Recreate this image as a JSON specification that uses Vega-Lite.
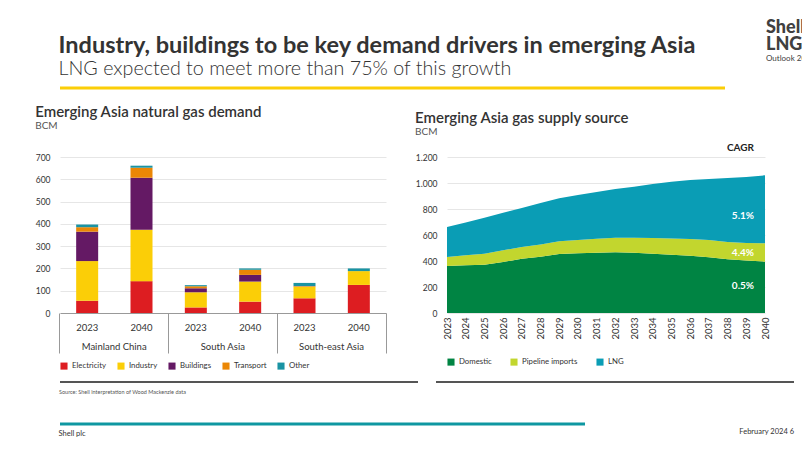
{
  "$schema": "https://vega.github.io/schema/vega-lite/v6.json",
  "padding": {"left": 35, "top": 19, "right": 0, "bottom": 0},
  "background": "white",
  "config": {
    "font": "Lato",
    "view": {"stroke": null},
    "title": {"font": "Lato", "subtitleFont": "Lato"},
    "axis": {"labelColor": "#333", "labelFont": "Lato"},
    "legend": {"labelColor": "#333", "labelFont": "Lato"}
  },
  "spacing": 11,
  "resolve": {"scale": {"x": "independent", "y": "independent"}},
  "vconcat": [
    {
      "spacing": 39,
      "resolve": {"scale": {"x": "independent", "y": "independent"}},
      "hconcat": [
        {
          "width": 665, "height": 5.5,
          "data": {"values": [{}]},
          "mark": {"type": "rule", "color": "#FBCE07", "strokeWidth": 3},
          "encoding": {
            "x": {"datum": 0, "type": "quantitative", "scale": {"domain": [0, 1]}, "axis": null},
            "x2": {"datum": 1},
            "y": {"datum": 1, "type": "quantitative", "scale": {"domain": [0, 1]}, "axis": null}
          },
          "title": {
            "text": "Industry, buildings to be key demand drivers in emerging Asia",
            "subtitle": "LNG expected to meet more than 75% of this growth",
            "anchor": "start", "offset": 7.5,
            "fontSize": 23.5, "fontWeight": "bold", "color": "#333",
            "subtitleFontSize": 19.7, "subtitleFontWeight": 300, "subtitleColor": "#333", "subtitlePadding": 2
          }
        },
        {
          "width": 42, "height": 5.5,
          "data": {"values": [{}]},
          "mark": {"type": "rule", "opacity": 0},
          "encoding": {
            "x": {"datum": 0, "type": "quantitative", "scale": {"domain": [0, 1]}, "axis": null},
            "x2": {"datum": 1},
            "y": {"datum": 1, "type": "quantitative", "scale": {"domain": [0, 1]}, "axis": null}
          },
          "title": {
            "text": ["Shell", "LNG"],
            "subtitle": "Outlook 2024",
            "anchor": "start", "offset": 25,
            "fontSize": 18, "fontWeight": 900, "lineHeight": 17, "color": "#404040",
            "subtitleFontSize": 8, "subtitlePadding": 1, "subtitleColor": "#404040"
          }
        }
      ]
    },
    {
      "spacing": 28,
      "resolve": {"scale": {"color": "independent", "y": "independent", "x": "independent"}, "legend": {"color": "independent"}},
      "hconcat": [
        {
          "width": 326, "height": 156,
          "title": {
            "text": "Emerging Asia natural gas demand", "subtitle": "BCM",
            "anchor": "start", "offset": 22,
            "fontSize": 15, "fontWeight": 600, "color": "#333",
            "subtitleFontSize": 10, "subtitleColor": "#555", "subtitlePadding": 1
          },
          "data": {"values": [
            {"group": "Mainland China|2023", "cat": "Electricity", "k": 1, "v": 55},
            {"group": "Mainland China|2023", "cat": "Industry", "k": 2, "v": 178},
            {"group": "Mainland China|2023", "cat": "Buildings", "k": 3, "v": 132},
            {"group": "Mainland China|2023", "cat": "Transport", "k": 4, "v": 20},
            {"group": "Mainland China|2023", "cat": "Other", "k": 5, "v": 12},
            {"group": "Mainland China|2040", "cat": "Electricity", "k": 1, "v": 143},
            {"group": "Mainland China|2040", "cat": "Industry", "k": 2, "v": 231},
            {"group": "Mainland China|2040", "cat": "Buildings", "k": 3, "v": 233},
            {"group": "Mainland China|2040", "cat": "Transport", "k": 4, "v": 45},
            {"group": "Mainland China|2040", "cat": "Other", "k": 5, "v": 9},
            {"group": "South Asia|2023", "cat": "Electricity", "k": 1, "v": 25},
            {"group": "South Asia|2023", "cat": "Industry", "k": 2, "v": 68},
            {"group": "South Asia|2023", "cat": "Buildings", "k": 3, "v": 18},
            {"group": "South Asia|2023", "cat": "Transport", "k": 4, "v": 9},
            {"group": "South Asia|2023", "cat": "Other", "k": 5, "v": 5},
            {"group": "South Asia|2040", "cat": "Electricity", "k": 1, "v": 51},
            {"group": "South Asia|2040", "cat": "Industry", "k": 2, "v": 90},
            {"group": "South Asia|2040", "cat": "Buildings", "k": 3, "v": 30},
            {"group": "South Asia|2040", "cat": "Transport", "k": 4, "v": 23},
            {"group": "South Asia|2040", "cat": "Other", "k": 5, "v": 6},
            {"group": "South-east Asia|2023", "cat": "Electricity", "k": 1, "v": 66},
            {"group": "South-east Asia|2023", "cat": "Industry", "k": 2, "v": 52},
            {"group": "South-east Asia|2023", "cat": "Buildings", "k": 3, "v": 1},
            {"group": "South-east Asia|2023", "cat": "Transport", "k": 4, "v": 2},
            {"group": "South-east Asia|2023", "cat": "Other", "k": 5, "v": 14},
            {"group": "South-east Asia|2040", "cat": "Electricity", "k": 1, "v": 126},
            {"group": "South-east Asia|2040", "cat": "Industry", "k": 2, "v": 62},
            {"group": "South-east Asia|2040", "cat": "Buildings", "k": 3, "v": 0},
            {"group": "South-east Asia|2040", "cat": "Transport", "k": 4, "v": 0},
            {"group": "South-east Asia|2040", "cat": "Other", "k": 5, "v": 12}
          ]},
          "resolve": {"axis": {"x": "independent"}},
          "layer": [
            {
              "mark": {"type": "bar"},
              "encoding": {
                "x": {
                  "field": "group", "type": "nominal",
                  "scale": {
                    "domain": ["Mainland China|2023", "Mainland China|2040", "South Asia|2023", "South Asia|2040", "South-east Asia|2023", "South-east Asia|2040"],
                    "paddingInner": 0.595, "paddingOuter": 0.2975
                  },
                  "axis": {
                    "orient": "bottom", "title": null, "labelAngle": 0,
                    "labelExpr": "split(datum.label, '|')[1]",
                    "ticks": false, "domainColor": "#999", "labelPadding": 9, "labelFontSize": 9.5
                  }
                },
                "y": {
                  "field": "v", "type": "quantitative",
                  "scale": {"domain": [0, 700], "nice": false},
                  "axis": {
                    "title": null, "values": [0, 100, 200, 300, 400, 500, 600, 700], "labelOverlap": false,
                    "grid": true, "gridColor": "#e6e6e6", "domain": false, "ticks": false,
                    "labelPadding": 10, "labelFontSize": 8.5, "minExtent": 23, "maxExtent": 23
                  }
                },
                "color": {
                  "field": "cat", "type": "nominal",
                  "scale": {
                    "domain": ["Electricity", "Industry", "Buildings", "Transport", "Other"],
                    "range": ["#DD1D21", "#FBCE07", "#641964", "#EB8705", "#1A93A3"]
                  },
                  "legend": {
                    "orient": "bottom", "direction": "horizontal", "title": null,
                    "symbolType": "square", "symbolSize": 50, "symbolStrokeWidth": 0,
                    "labelFontSize": 7.8, "labelOffset": 4, "columnPadding": 10, "offset": 8
                  }
                },
                "order": {"field": "k", "type": "quantitative"}
              }
            },
            {
              "mark": {"type": "tick", "opacity": 0},
              "encoding": {
                "x": {
                  "field": "group", "type": "nominal",
                  "axis": {
                    "orient": "bottom", "title": null, "labels": false, "domain": false,
                    "values": ["Mainland China|2023", "South Asia|2023", "South-east Asia|2023"],
                    "bandPosition": -0.735, "tickSize": 40, "tickColor": "#999"
                  }
                },
                "y": {
                  "field": "v", "type": "quantitative",
                  "axis": {
                    "title": null, "values": [0, 100, 200, 300, 400, 500, 600, 700], "labelOverlap": false,
                    "grid": true, "gridColor": "#e6e6e6", "domain": false, "ticks": false,
                    "labelPadding": 10, "labelFontSize": 8.5, "minExtent": 23, "maxExtent": 23
                  }
                }
              }
            },
            {
              "mark": {"type": "tick", "opacity": 0},
              "encoding": {
                "x": {
                  "field": "group", "type": "nominal",
                  "axis": {
                    "orient": "bottom", "title": null, "labels": false, "domain": false,
                    "values": ["South-east Asia|2040"],
                    "bandPosition": 1.735, "tickSize": 40, "tickColor": "#999"
                  }
                },
                "y": {
                  "field": "v", "type": "quantitative",
                  "axis": {
                    "title": null, "values": [0, 100, 200, 300, 400, 500, 600, 700], "labelOverlap": false,
                    "grid": true, "gridColor": "#e6e6e6", "domain": false, "ticks": false,
                    "labelPadding": 10, "labelFontSize": 8.5, "minExtent": 23, "maxExtent": 23
                  }
                }
              }
            },
            {
              "mark": {"type": "tick", "opacity": 0},
              "encoding": {
                "x": {
                  "field": "group", "type": "nominal",
                  "axis": {
                    "orient": "bottom", "title": null, "ticks": false, "domain": false,
                    "values": ["Mainland China|2023", "South Asia|2023", "South-east Asia|2023"],
                    "labelExpr": "split(datum.label, '|')[0]", "labelAngle": 0,
                    "labelOffset": 27, "labelPadding": 28, "labelFontSize": 9.5
                  }
                },
                "y": {
                  "field": "v", "type": "quantitative",
                  "axis": {
                    "title": null, "values": [0, 100, 200, 300, 400, 500, 600, 700], "labelOverlap": false,
                    "grid": true, "gridColor": "#e6e6e6", "domain": false, "ticks": false,
                    "labelPadding": 10, "labelFontSize": 8.5, "minExtent": 23, "maxExtent": 23
                  }
                }
              }
            }
          ]
        },
        {
          "width": 318, "height": 156,
          "title": {
            "text": "Emerging Asia gas supply source", "subtitle": "BCM",
            "anchor": "start", "offset": 6.5,
            "fontSize": 15, "fontWeight": 600, "color": "#333",
            "subtitleFontSize": 10, "subtitleColor": "#555", "subtitlePadding": 1
          },
          "layer": [
            {
              "data": {"values": [
                {"year": "2023", "src": "Domestic", "k": 1, "v": 362}, {"year": "2023", "src": "Pipeline imports", "k": 2, "v": 69}, {"year": "2023", "src": "LNG", "k": 3, "v": 230},
                {"year": "2024", "src": "Domestic", "k": 1, "v": 367}, {"year": "2024", "src": "Pipeline imports", "k": 2, "v": 77}, {"year": "2024", "src": "LNG", "k": 3, "v": 253},
                {"year": "2025", "src": "Domestic", "k": 1, "v": 372}, {"year": "2025", "src": "Pipeline imports", "k": 2, "v": 84}, {"year": "2025", "src": "LNG", "k": 3, "v": 277},
                {"year": "2026", "src": "Domestic", "k": 1, "v": 392}, {"year": "2026", "src": "Pipeline imports", "k": 2, "v": 90}, {"year": "2026", "src": "LNG", "k": 3, "v": 290},
                {"year": "2027", "src": "Domestic", "k": 1, "v": 418}, {"year": "2027", "src": "Pipeline imports", "k": 2, "v": 90}, {"year": "2027", "src": "LNG", "k": 3, "v": 300},
                {"year": "2028", "src": "Domestic", "k": 1, "v": 433}, {"year": "2028", "src": "Pipeline imports", "k": 2, "v": 93}, {"year": "2028", "src": "LNG", "k": 3, "v": 320},
                {"year": "2029", "src": "Domestic", "k": 1, "v": 454}, {"year": "2029", "src": "Pipeline imports", "k": 2, "v": 97}, {"year": "2029", "src": "LNG", "k": 3, "v": 331},
                {"year": "2030", "src": "Domestic", "k": 1, "v": 459}, {"year": "2030", "src": "Pipeline imports", "k": 2, "v": 103}, {"year": "2030", "src": "LNG", "k": 3, "v": 346},
                {"year": "2031", "src": "Domestic", "k": 1, "v": 464}, {"year": "2031", "src": "Pipeline imports", "k": 2, "v": 108}, {"year": "2031", "src": "LNG", "k": 3, "v": 359},
                {"year": "2032", "src": "Domestic", "k": 1, "v": 467}, {"year": "2032", "src": "Pipeline imports", "k": 2, "v": 112}, {"year": "2032", "src": "LNG", "k": 3, "v": 375},
                {"year": "2033", "src": "Domestic", "k": 1, "v": 464}, {"year": "2033", "src": "Pipeline imports", "k": 2, "v": 115}, {"year": "2033", "src": "LNG", "k": 3, "v": 393},
                {"year": "2034", "src": "Domestic", "k": 1, "v": 456}, {"year": "2034", "src": "Pipeline imports", "k": 2, "v": 121}, {"year": "2034", "src": "LNG", "k": 3, "v": 415},
                {"year": "2035", "src": "Domestic", "k": 1, "v": 449}, {"year": "2035", "src": "Pipeline imports", "k": 2, "v": 125}, {"year": "2035", "src": "LNG", "k": 3, "v": 436},
                {"year": "2036", "src": "Domestic", "k": 1, "v": 441}, {"year": "2036", "src": "Pipeline imports", "k": 2, "v": 128}, {"year": "2036", "src": "LNG", "k": 3, "v": 454},
                {"year": "2037", "src": "Domestic", "k": 1, "v": 428}, {"year": "2037", "src": "Pipeline imports", "k": 2, "v": 134}, {"year": "2037", "src": "LNG", "k": 3, "v": 469},
                {"year": "2038", "src": "Domestic", "k": 1, "v": 413}, {"year": "2038", "src": "Pipeline imports", "k": 2, "v": 133}, {"year": "2038", "src": "LNG", "k": 3, "v": 492},
                {"year": "2039", "src": "Domestic", "k": 1, "v": 403}, {"year": "2039", "src": "Pipeline imports", "k": 2, "v": 135}, {"year": "2039", "src": "LNG", "k": 3, "v": 508},
                {"year": "2040", "src": "Domestic", "k": 1, "v": 395}, {"year": "2040", "src": "Pipeline imports", "k": 2, "v": 141}, {"year": "2040", "src": "LNG", "k": 3, "v": 523}
              ]},
              "mark": {"type": "area"},
              "encoding": {
                "x": {
                  "field": "year", "type": "ordinal",
                  "scale": {"type": "point", "padding": 0},
                  "axis": {"title": null, "labelAngle": -90, "ticks": false, "domain": false, "labelPadding": 4, "labelFontSize": 9.5, "labelOverlap": false}
                },
                "y": {
                  "field": "v", "type": "quantitative", "stack": "zero",
                  "scale": {"domain": [0, 1200], "nice": false},
                  "axis": {
                    "title": null, "values": [0, 200, 400, 600, 800, 1000, 1200], "labelOverlap": false,
                    "labelExpr": "replace(format(datum.value, ','), ',', '.')",
                    "grid": true, "gridColor": "#e6e6e6", "domain": false, "ticks": false,
                    "labelPadding": 10, "labelFontSize": 8.5, "minExtent": 32, "maxExtent": 32
                  }
                },
                "color": {
                  "field": "src", "type": "nominal",
                  "scale": {"domain": ["Domestic", "Pipeline imports", "LNG"], "range": ["#008443", "#C2D62E", "#0A9DB5"]},
                  "legend": {
                    "orient": "bottom", "direction": "horizontal", "title": null,
                    "symbolType": "square", "symbolSize": 50, "symbolStrokeWidth": 0,
                    "labelFontSize": 7.8, "labelOffset": 4, "columnPadding": 18, "offset": 18
                  }
                },
                "order": {"field": "k", "type": "quantitative"}
              }
            },
            {
              "data": {"values": [
                {"year": "2040", "label": "CAGR", "v": 1269},
                {"year": "2040", "label": "5.1%", "v": 746},
                {"year": "2040", "label": "4.4%", "v": 461},
                {"year": "2040", "label": "0.5%", "v": 205}
              ]},
              "mark": {"type": "text", "align": "right", "baseline": "middle", "dx": -11, "fontSize": 10, "fontWeight": "bold"},
              "encoding": {
                "x": {
                  "field": "year", "type": "ordinal",
                  "axis": {"title": null, "labelAngle": -90, "ticks": false, "domain": false, "labelPadding": 4, "labelFontSize": 9.5, "labelOverlap": false}
                },
                "y": {
                  "field": "v", "type": "quantitative",
                  "axis": {
                    "title": null, "values": [0, 200, 400, 600, 800, 1000, 1200], "labelOverlap": false,
                    "labelExpr": "replace(format(datum.value, ','), ',', '.')",
                    "grid": true, "gridColor": "#e6e6e6", "domain": false, "ticks": false,
                    "labelPadding": 10, "labelFontSize": 8.5, "minExtent": 32, "maxExtent": 32
                  }
                },
                "text": {"field": "label"},
                "color": {"condition": {"test": "datum.label === 'CAGR'", "value": "#222"}, "value": "white"}
              }
            }
          ]
        }
      ]
    },
    {
      "spacing": 16,
      "resolve": {"scale": {"x": "independent", "y": "independent"}},
      "hconcat": [
        {
          "width": 358, "height": 2,
          "data": {"values": [{}]},
          "mark": {"type": "rule", "color": "#555", "strokeWidth": 2},
          "encoding": {
            "x": {"datum": 0, "type": "quantitative", "scale": {"domain": [0, 1]}, "axis": null},
            "x2": {"datum": 1},
            "y": {"datum": 1, "type": "quantitative", "scale": {"domain": [0, 1]}, "axis": null}
          },
          "title": {
            "text": "Source: Shell interpretation of Wood Mackenzie data",
            "orient": "bottom", "anchor": "start", "offset": 6,
            "fontSize": 5.5, "fontWeight": "normal", "color": "#555"
          }
        },
        {
          "width": 358, "height": 2,
          "data": {"values": [{}]},
          "mark": {"type": "rule", "color": "#555", "strokeWidth": 2},
          "encoding": {
            "x": {"datum": 0, "type": "quantitative", "scale": {"domain": [0, 1]}, "axis": null},
            "x2": {"datum": 1},
            "y": {"datum": 1, "type": "quantitative", "scale": {"domain": [0, 1]}, "axis": null}
          }
        }
      ]
    },
    {
      "spacing": 0,
      "resolve": {"scale": {"x": "independent", "y": "independent"}},
      "hconcat": [
        {
          "width": 525, "height": 17,
          "data": {"values": [{}]},
          "mark": {"type": "rule", "color": "#0E97A1", "strokeWidth": 3},
          "encoding": {
            "x": {"datum": 0, "type": "quantitative", "scale": {"domain": [0, 1]}, "axis": null},
            "x2": {"datum": 1},
            "y": {"datum": 0, "type": "quantitative", "scale": {"domain": [0, 1]}, "axis": null}
          },
          "title": {
            "text": "Shell plc", "orient": "bottom", "anchor": "start", "offset": 4,
            "fontSize": 7.5, "fontWeight": "normal", "color": "#333"
          }
        },
        {
          "width": 207, "height": 17,
          "data": {"values": [{}]},
          "mark": {"type": "rule", "opacity": 0, "strokeWidth": 3},
          "encoding": {
            "x": {"datum": 0, "type": "quantitative", "scale": {"domain": [0, 1]}, "axis": null},
            "x2": {"datum": 1},
            "y": {"datum": 0, "type": "quantitative", "scale": {"domain": [0, 1]}, "axis": null}
          },
          "title": {
            "text": "February 2024       6", "orient": "bottom", "anchor": "end", "offset": 4,
            "fontSize": 7.5, "fontWeight": "normal", "color": "#333"
          }
        }
      ]
    }
  ]
}
